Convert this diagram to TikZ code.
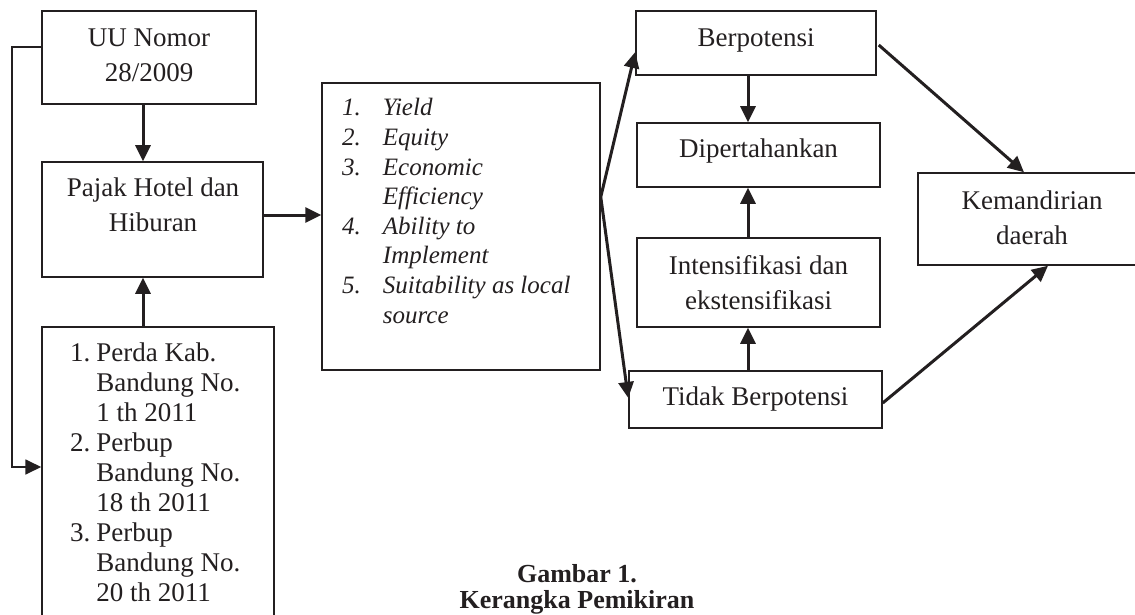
\documentclass[tikz,border=0pt]{standalone}
\usepackage{fontspec}
\setmainfont{Liberation Serif}
\usetikzlibrary{arrows.meta}
\definecolor{ink}{HTML}{231F20}
\begin{document}
\begin{tikzpicture}[x=1pt,y=-1pt,
  box/.style={draw=ink,line width=1.5pt,inner sep=0pt,rectangle},
  txt/.style={inner sep=0pt,align=center,text=ink,font=\fontsize{27}{35}\selectfont},
  lst/.style={inner sep=0pt,anchor=base west,text=ink,font=\fontsize{27}{30}\selectfont},
  arr/.style={draw=ink,line width=3pt,-{Triangle[length=16pt,width=15pt]}},
  thinarr/.style={draw=ink,line width=1.8pt,-{Triangle[length=16pt,width=15pt]}}]
\useasboundingbox (0,0) rectangle (1135,615);
\clip (0,0) rectangle (1135,615);
% boxes
\node[box,minimum width=214pt,minimum height=93pt] (uu) at (149,57.5) {};
\node[box,minimum width=221pt,minimum height=115pt] (pajak) at (152.5,219.5) {};
\node[box,minimum width=232pt,minimum height=313pt] (perda) at (158,483.5) {};
\node[box,minimum width=278pt,minimum height=287pt] (list) at (461,226.5) {};
\node[box,minimum width=240pt,minimum height=64pt] (berp) at (756,43) {};
\node[box,minimum width=243pt,minimum height=64pt] (dip) at (758.5,155) {};
\node[box,minimum width=243pt,minimum height=89pt] (intens) at (758.5,282.5) {};
\node[box,minimum width=253pt,minimum height=57pt] (tidak) at (755.5,399.5) {};
\node[box,minimum width=227pt,minimum height=92pt] (kem) at (1031.5,219) {};
% texts
\node[txt] (uut) at (149,55) {UU Nomor\\28/2009};
\node[txt] (pajakt) at (153,205) {Pajak Hotel dan\\Hiburan};
\node[txt] (berpt) at (756,40) {Berpotensi};
\node[txt] (dipt) at (758.5,151) {Dipertahankan};
\node[txt] (intenst) at (758.5,283) {Intensifikasi dan\\ekstensifikasi};
\node[txt] (tidakt) at (755.5,399) {Tidak Berpotensi};
\node[txt] (kemt) at (1032,218) {Kemandirian\\daerah};
\node[lst] (perdat) at (70,361) {\begin{tabular}[t]{@{}l@{\hspace{6pt}}l@{}}
1. & Perda Kab.\\ & Bandung No.\\ & 1 th 2011\\
2. & Perbup\\ & Bandung No.\\ & 18 th 2011\\
3. & Perbup\\ & Bandung No.\\ & 20 th 2011
\end{tabular}};
\node[lst,font=\fontsize{25}{29.6}\selectfont] (listt) at (342,116) {\itshape\begin{tabular}[t]{@{}l@{\hspace{22pt}}l@{}}
1. & Yield\\ 2. & Equity\\ 3. & Economic\\ & Efficiency\\
4. & Ability to\\ & Implement\\ 5. & Suitability as local\\ & source
\end{tabular}};
\node[txt,font=\bfseries\fontsize{26}{26}\selectfont] (cap) at (577,589) {Gambar 1.\\Kerangka Pemikiran};
% connectors
\draw[arr] ([xshift=-6pt]uu.south) -- ([xshift=-9.5pt]pajak.north);
\draw[arr] ([xshift=-15pt]perda.north) -- ([xshift=-9.5pt]pajak.south);
\draw[thinarr] ([yshift=10.5pt]uu.west) -| (12,467) -- ([yshift=16.5pt]perda.west);
\draw[arr] ([yshift=4.5pt]pajak.east) -- ([yshift=11.5pt]list.west);
\draw[arr] ([yshift=29.5pt]list.east) -- ([yshift=-9pt]berp.west);
\draw[arr] ([yshift=29.5pt]list.east) -- ([yshift=1.5pt]tidak.west);
\draw[arr] ([xshift=-8pt]berp.south) -- ([xshift=-10.5pt]dip.north);
\draw[arr] ([xshift=-10.5pt]intens.north) -- ([xshift=-10.5pt]dip.south);
\draw[arr] ([xshift=-7.5pt]tidak.north) -- ([xshift=-10.5pt]intens.south);
\draw[arr] ([xshift=2pt,yshift=-2pt]berp.east) -- ([xshift=-7.5pt]kem.north);
\draw[arr] ([yshift=-3.5pt]tidak.east) -- ([xshift=16.5pt]kem.south);
\end{tikzpicture}
\end{document}
